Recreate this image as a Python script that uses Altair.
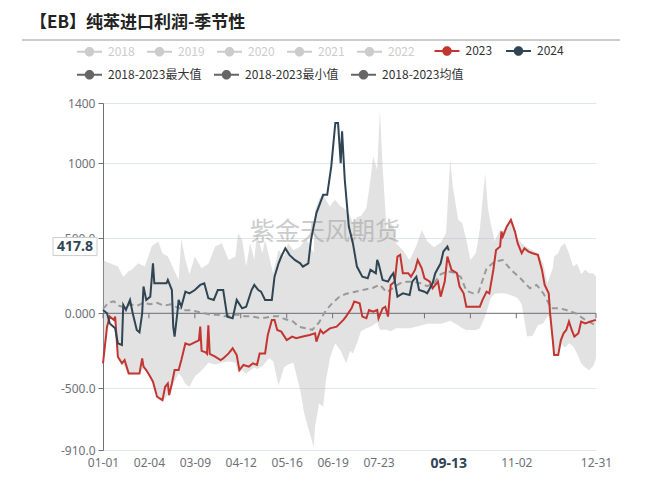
import altair as alt
import pandas as pd

# ---------------- data ----------------
TITLE = "【EB】纯苯进口利润-季节性"
WATERMARK = "紫金天风期货"
HIDDEN_YEARS = ["2018", "2019", "2020", "2021", "2022"]
ACTIVE_YEARS = ["2023", "2024"]
ACTIVE_COLORS = ["#c23531", "#2f4554"]
HIDDEN_COLOR = "#cccccc"
STAT_NAMES = ["2018-2023最大值", "2018-2023最小值", "2018-2023均值"]

y_ticks = [1400, 1000, 500, 0, -500, -910]
y_tick_labels = ["1400", "1000", "500.0", "0.000", "-500.0", "-910.0"]
x_ticks = [0, 34, 68, 102, 136, 170, 204, 238, 272, 306, 365]  # day index in a leap year
x_label_days = [0, 34, 68, 102, 136, 170, 204, 306, 365]      # 08-26 / 09-29 sit under the pointer label

days_2023 = [0, 3, 5, 8, 9, 11, 14, 16, 19, 27, 29, 30, 32, 35, 37, 40, 42, 44, 46, 48, 49, 51, 53, 56, 58,
             61, 64, 69, 71, 72, 73, 76, 77, 78, 79, 83, 87, 89, 93, 96, 99, 101, 104, 108, 111, 114, 116,
             120, 122, 125, 127, 129, 132, 136, 140, 143, 148, 153, 157, 158, 161, 163, 168, 173, 178, 180,
             184, 186, 190, 192, 195, 197, 200, 203, 204, 207, 209, 211, 213, 216, 218, 220, 222, 226, 228,
             231, 233, 236, 238, 242, 244, 248, 250, 253, 255, 258, 262, 264, 267, 269, 272, 279, 281, 284,
             286, 289, 291, 294, 295, 296, 299, 302, 305, 307, 310, 312, 315, 318, 322, 325, 327, 330, 331,
             333, 334, 337, 339, 341, 343, 345, 347, 349, 352, 354, 357, 361, 365]
vals_2023 = [-333, -89, -22, -44, -22, -289, -333, -311, -400, -400, -300, -355, -378, -422, -455, -555, -567,
             -578, -489, -467, -544, -467, -378, -378, -311, -200, -211, -189, -180, -89, -250, -260, -270,
             -80, -270, -289, -311, -300, -267, -233, -278, -378, -344, -355, -333, -344, -267, -267, -144,
             -44, -44, -111, -122, -178, -155, -166, -155, -144, -133, -189, -111, -133, -100, -89, -44, -20,
             33, 78, 67, -22, -33, 22, 11, 22, -33, 33, 44, -22, 189, 211, 378, 389, 267, 267, 244, 289, 355,
             300, 233, 211, 166, 211, 111, 211, 378, 289, 267, 178, 133, 44, 44, 44, 89, 144, 133, 289, 422,
             444, 544, 511, 578, 622, 544, 467, 400, 433, 411, 400, 389, 289, 189, 133, 0, -178, -278, -278,
             -178, -133, -111, -55, -111, -155, -133, -55, -67, -55, -44]

days_2024 = [0, 3, 5, 9, 11, 14, 15, 17, 20, 22, 25, 27, 29, 30, 32, 35, 37, 38, 42, 47, 48, 51, 52, 53, 55,
             56, 58, 61, 64, 68, 72, 75, 78, 82, 85, 89, 92, 96, 99, 103, 106, 110, 112, 115, 117, 120, 125,
             127, 130, 132, 135, 138, 142, 146, 148, 152, 154, 158, 163, 166, 169, 172, 174, 176, 177, 179,
             182, 185, 188, 192, 196, 198, 202, 203, 204, 207, 211, 213, 215, 218, 222, 227, 229, 232, 234,
             238, 240, 244, 246, 250, 252, 255, 256]
vals_2024 = [22, 0, -67, -100, -200, -211, 55, 22, 89, 0, -111, -127, 0, 178, 89, 111, 333, 200, 200, 200,
             222, 155, -89, -155, 0, 89, 44, 144, 133, 155, 189, 200, 100, 89, 155, 155, -22, -33, 89, 33, 44,
             155, 189, 155, 144, 89, 89, 244, 333, 378, 433, 389, 355, 333, 311, 333, 489, 667, 789, 789, 978,
             1267, 1267, 1000, 1211, 889, 578, 467, 311, 244, 233, 289, 267, 355, 333, 222, 211, 244, 267,
             111, 133, 122, 211, 244, 155, 144, 133, 200, 267, 333, 411, 444, 418]

band_days = [0, 3, 5, 9, 11, 15, 19, 21, 26, 31, 36, 41, 44, 48, 49, 52, 56, 58, 61, 64, 68, 73, 78, 83, 88,
             93, 98, 100, 103, 106, 109, 112, 114, 118, 120, 123, 126, 130, 134, 137, 141, 146, 149, 151, 156,
             157, 160, 163, 165, 168, 170, 172, 176, 180, 183, 185, 188, 191, 195, 198, 200, 203, 205, 207,
             210, 213, 215, 217, 222, 227, 232, 236, 240, 245, 250, 254, 257, 259, 263, 266, 269, 272, 276,
             279, 281, 283, 285, 287, 290, 294, 296, 299, 302, 305, 307, 310, 314, 318, 322, 326, 329, 331,
             333, 334, 337, 339, 342, 345, 348, 351, 354, 357, 360, 363, 365]
band_max = [355, 340, 333, 320, 311, 244, 280, 289, 333, 311, 444, 478, 400, 378, 360, 300, 222, 500, 355,
            260, 378, 300, 330, 444, 467, 355, 378, 533, 489, 311, 467, 355, 533, 400, 489, 378, 267, 422,
            378, 467, 420, 444, 480, 489, 400, 689, 760, 800, 755, 711, 740, 755, 711, 689, 650, 600, 640,
            650, 700, 889, 1044, 955, 1356, 978, 555, 600, 578, 467, 420, 355, 450, 555, 480, 440, 470, 533,
            1022, 844, 622, 600, 489, 355, 400, 560, 755, 933, 700, 600, 480, 560, 545, 590, 625, 550, 500,
            467, 440, 420, 400, 330, 200, 250, 300, 378, 400, 444, 467, 400, 311, 330, 260, 290, 267, 267, 244]
band_min = [-340, -95, -30, -50, -295, -340, -405, -405, -405, -360, -430, -570, -585, -545, -550, -470,
            -400, -420, -470, -489, -420, -380, -330, -340, -330, -320, -330, -390, -380, -400, -380, -360,
            -370, -350, -330, -300, -320, -480, -360, -340, -330, -511, -667, -733, -890, -755, -600, -622,
            -450, -300, -244, -200, -250, -333, -250, -267, -200, -120, -100, -90, -80, -60, -110, -110, -110,
            -120, -110, -100, -100, -100, -90, -80, -70, -70, -70, -60, -50, -60, -80, -100, -111, -111, -111,
            -100, -60, -20, 40, 100, 130, 133, 133, 130, 120, 111, 100, 60, -155, -150, -80, -67, -20, -20,
            -180, -280, -280, -200, -230, -200, -220, -267, -333, -360, -378, -350, -300]

mean_days = [0, 4, 8, 12, 16, 20, 25, 30, 35, 40, 45, 50, 55, 60, 65, 70, 75, 80, 85, 90, 95, 100, 105, 110,
             115, 120, 125, 130, 135, 140, 145, 150, 155, 160, 165, 170, 175, 180, 185, 190, 195, 200, 205,
             210, 215, 220, 225, 230, 235, 240, 245, 250, 255, 260, 265, 269, 274, 278, 281, 284, 290, 296,
             302, 309, 316, 321, 326, 332, 338, 343, 350, 357, 365]
mean_vals = [30, 70, 80, 50, 40, 60, 50, 70, 60, 70, 50, 60, 40, 20, 20, 10, 0, -10, -10, -20, -10, -10, -20,
             -20, -30, -30, -20, -20, -40, -50, -90, -100, -110, -60, 20, 70, 110, 130, 140, 150, 160, 170,
             190, 140, 170, 200, 210, 210, 200, 180, 200, 260, 280, 270, 240, 150, 133, 140, 220, 300, 344,
             355, 290, 233, 167, 189, 133, 33, 33, 22, 0, -44, -80]

pointer_day = 256
pointer_day_label = "09-13"
pointer_value = 417.8

# ---------------- tables ----------------
lines_df = pd.concat([
    pd.DataFrame({"series": "2023", "d": days_2023, "v": vals_2023}),
    pd.DataFrame({"series": "2024", "d": days_2024, "v": vals_2024}),
])
band_df = pd.DataFrame({"d": band_days, "hi": band_max, "lo": band_min})
mean_df = pd.DataFrame({"d": mean_days, "v": mean_vals})
tick_df = pd.DataFrame({"d": x_ticks})
one = pd.DataFrame({"k": [0]})


def empty(field):
    # legend-only layer: no rows, its own field so that legends stay separate
    return pd.DataFrame({field: pd.Series([], dtype=str)})


# ---------------- styling ----------------
AXIS_GRAY = "#6e7079"
# legend symbol: short line with a dot in the middle (all filled parts)
SYMBOL = ("M-1,-0.08H-0.3V0.08H-1Z M0.3,-0.08H1V0.08H0.3Z "
          "M0.38,0A0.38,0.38,0,1,1,-0.38,0A0.38,0.38,0,1,1,0.38,0Z")
LABEL_FONT = "Noto Sans CJK SC"

y_expr = " : ".join(f"datum.value == {v} ? '{t}'" for v, t in zip(y_ticks, y_tick_labels)) + " : datum.label"
x_expr = "timeFormat(datetime(2024, 0, 1 + datum.value), '%m-%d')"

x_scale = alt.Scale(domain=[0, 365], nice=False, zero=False)
y_scale = alt.Scale(domain=[-910, 1400], nice=False, zero=False)

x_axis = alt.Axis(values=x_label_days, labelExpr=x_expr, domain=False, ticks=False, grid=False,
                  labelPadding=7, labelColor=AXIS_GRAY, labelFontSize=12, labelFont="Noto Sans",
                  labelOverlap=False, labelFlush=False, title=None)
y_axis = alt.Axis(values=y_ticks, labelExpr=y_expr, domain=True, domainColor=AXIS_GRAY,
                  ticks=True, tickColor=AXIS_GRAY, tickSize=5, grid=True, gridColor="#e0e6f1",
                  labelPadding=3, labelColor=AXIS_GRAY, labelFontSize=12, labelFont="Noto Sans",
                  title=None)

legend_common = dict(title=None, orient="none", direction="horizontal", symbolType=SYMBOL,
                     symbolSize=625, symbolStrokeWidth=0, symbolOpacity=1, labelFont=LABEL_FONT,
                     labelFontSize=12, labelOffset=6, columnPadding=12, padding=0)

X = alt.X("d:Q", scale=x_scale, axis=x_axis)

band = alt.Chart(band_df).mark_area(color="#b4b4b4", opacity=0.38).encode(
    x=X, y=alt.Y("hi:Q", scale=y_scale, axis=y_axis), y2="lo:Q")

watermark = alt.Chart(pd.DataFrame({"t": [WATERMARK]})).mark_text(
    font=LABEL_FONT, fontSize=25, color="#9a9a9a", opacity=0.5, align="center", baseline="middle"
).encode(text="t:N", x=alt.value(222), y=alt.value(129))

zero_line = alt.Chart(one).mark_rule(color=AXIS_GRAY, strokeWidth=1).encode(y=alt.datum(0))

zero_ticks = alt.Chart(tick_df).mark_point(shape="M0,0L0,1", size=100, filled=False,
                                           color=AXIS_GRAY, strokeWidth=1, opacity=1).encode(
    x="d:Q", y=alt.datum(0))

mean_line = alt.Chart(mean_df).mark_line(color="#999999", strokeWidth=2, strokeDash=[6, 4]).encode(
    x="d:Q", y="v:Q")

year_lines = alt.Chart(lines_df).mark_line(strokeWidth=2).encode(
    x="d:Q", y="v:Q",
    color=alt.Color("series:N", scale=alt.Scale(domain=ACTIVE_YEARS, range=ACTIVE_COLORS), legend=None))

# legends for the toggled-off years and for the statistics (built from scales, no rows drawn)
hidden_legend = alt.Chart(empty("hidden_year")).mark_point(filled=True, color=HIDDEN_COLOR).encode(
    opacity=alt.Opacity("hidden_year:N", scale=alt.Scale(domain=HIDDEN_YEARS, range=[1] * len(HIDDEN_YEARS)),
                        legend=alt.Legend(legendX=-26, legendY=-64, labelColor=HIDDEN_COLOR,
                                          **legend_common)))
stat_legend = alt.Chart(empty("stat")).mark_point(filled=True, color="#666666").encode(
    shape=alt.Shape("stat:N", scale=alt.Scale(domain=STAT_NAMES, range=[SYMBOL, SYMBOL, SYMBOL]),
                    legend=alt.Legend(legendX=-26, legendY=-41, labelColor="#333333", **legend_common)))

# legend entries for the two visible years, continuing the first legend row
LEGEND_ROW_Y = -52
LEGEND_PITCH = 71.5
first_active_x = -26 + 12.5 + LEGEND_PITCH * len(HIDDEN_YEARS)
active_entries = []
for i, (yr, col) in enumerate(zip(ACTIVE_YEARS, ACTIVE_COLORS)):
    cx = first_active_x + LEGEND_PITCH * i
    active_entries.append(
        alt.Chart(one).mark_point(shape=SYMBOL, size=625, filled=True, color=col, strokeWidth=0,
                                  opacity=1).encode(x=alt.value(cx), y=alt.value(LEGEND_ROW_Y)))
    active_entries.append(
        alt.Chart(pd.DataFrame({"t": [yr]})).mark_text(
            font=LABEL_FONT, fontSize=12, color="#333333", align="left", baseline="middle"
        ).encode(text="t:N", x=alt.value(cx + 12.5 + 6), y=alt.value(LEGEND_ROW_Y)))

BOX_Y = "M-1,-0.41H1V0.41H-1Z"
BOX_X = "M-1,-0.3H1V0.3H-1Z"
ybox = alt.Chart(one).mark_point(shape=BOX_Y, size=44 * 44, filled=True, fill="white",
                                 stroke="#cccccc", strokeWidth=1, opacity=1, yOffset=-4).encode(
    x=alt.value(-28), y=alt.datum(pointer_value))
ytext = alt.Chart(pd.DataFrame({"t": [f"{pointer_value}"]})).mark_text(
    font="Noto Sans", fontSize=14, fontWeight="bold", color="#2f4554", align="center", baseline="middle",
    yOffset=-4
).encode(text="t:N", x=alt.value(-28), y=alt.datum(pointer_value))
xbox = alt.Chart(one).mark_point(shape=BOX_X, size=72 * 72, filled=True, fill="white",
                                 strokeWidth=0, opacity=1).encode(
    x=alt.datum(pointer_day), y=alt.value(361))
xtext = alt.Chart(pd.DataFrame({"t": [pointer_day_label]})).mark_text(
    font="Noto Sans", fontSize=14, fontWeight="bold", color="#2f4554", align="center", baseline="middle"
).encode(text="t:N", x=alt.datum(pointer_day), y=alt.value(361))

title = alt.Chart(pd.DataFrame({"t": [TITLE]})).mark_text(
    font=LABEL_FONT, fontSize=17, fontWeight="bold", color="#222222", align="left", baseline="middle"
).encode(text="t:N", x=alt.value(-73), y=alt.value(-80))
title_rule = alt.Chart(one).mark_rule(color="#bbbbbb", strokeWidth=1.5).encode(
    x=alt.value(-81), x2=alt.value(517), y=alt.value(-63))

chart = alt.layer(
    band, watermark, zero_line, zero_ticks, mean_line, year_lines,
    hidden_legend, stat_legend, *active_entries,
    ybox, ytext, xbox, xtext, title, title_rule
).properties(
    width=493, height=347,
    padding={"left": 95, "top": 95, "right": 48, "bottom": 28},
    autosize=alt.AutoSizeParams(type="none"),
).configure_view(stroke=None)

chart.save("out.html", embed_options={"renderer": "svg", "actions": False})
